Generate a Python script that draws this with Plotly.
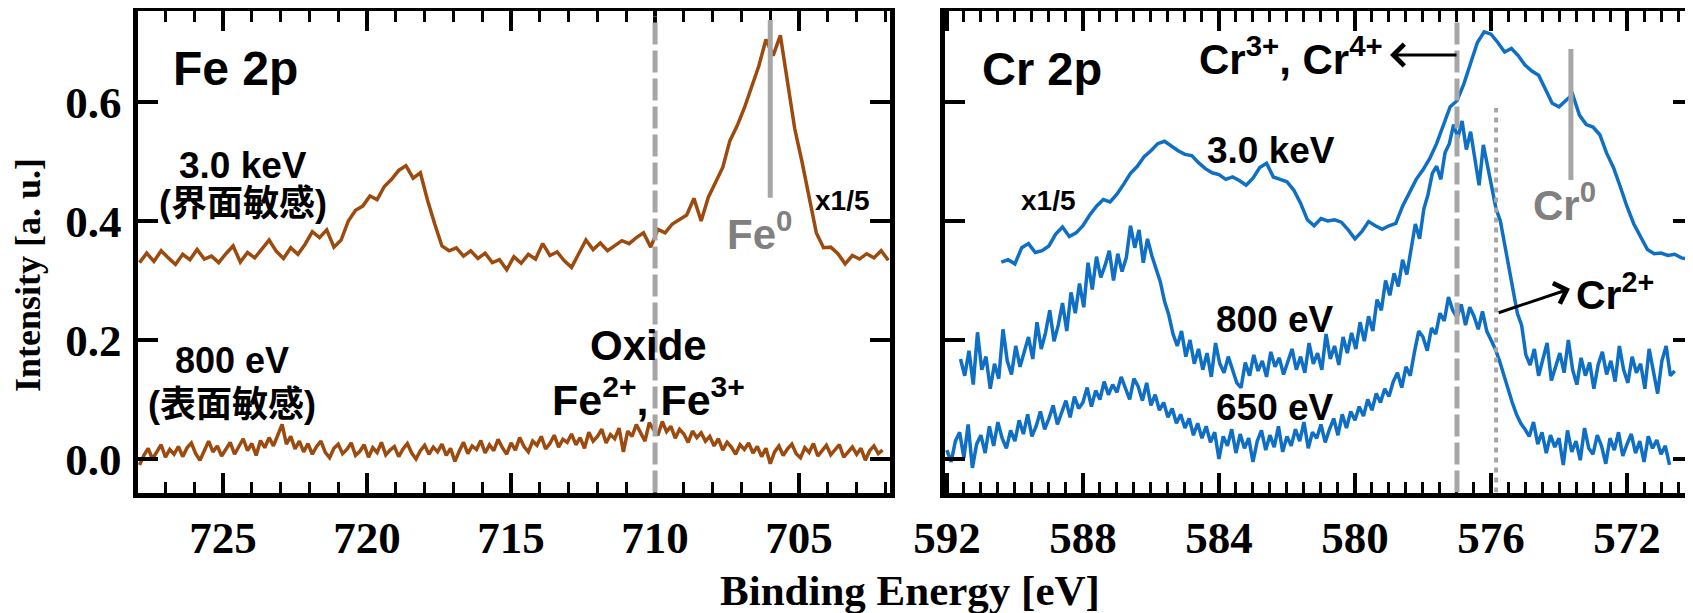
import numpy as np
import plotly.graph_objects as go

# ---------------- data ----------------
# Fe 2p, 3.0 keV (x1/5), energy grid: start 727.9 eV, step 0.25 eV (decreasing)
fe_3kev_start, fe_3kev_step = 727.9, 0.25
fe_3kev = [0.330, 0.346, 0.332, 0.350, 0.338, 0.327, 0.344, 0.335,
           0.352, 0.336, 0.341, 0.330, 0.345, 0.358, 0.331, 0.347,
           0.338, 0.352, 0.368, 0.349, 0.337, 0.355, 0.344, 0.361,
           0.382, 0.372, 0.385, 0.356, 0.368, 0.400, 0.418, 0.425,
           0.442, 0.436, 0.458, 0.470, 0.485, 0.493, 0.472, 0.481,
           0.435, 0.395, 0.358, 0.350, 0.355, 0.341, 0.350, 0.337,
           0.346, 0.330, 0.335, 0.318, 0.340, 0.329, 0.344, 0.336,
           0.362, 0.342, 0.348, 0.333, 0.322, 0.345, 0.368, 0.352,
           0.363, 0.350, 0.358, 0.367, 0.362, 0.372, 0.380, 0.356,
           0.386, 0.380, 0.395, 0.402, 0.410, 0.438, 0.400, 0.440,
           0.465, 0.490, 0.535, 0.560, 0.590, 0.625, 0.660, 0.705,
           0.678, 0.712, 0.635, 0.555, 0.500, 0.440, 0.380, 0.355,
           0.356, 0.345, 0.328, 0.342, 0.336, 0.345, 0.338, 0.350, 0.334]

# Fe 2p, 800 eV, grid: start 727.9 eV, step 0.15 eV
fe_800_start, fe_800_step = 727.9, 0.15
fe_800 = [-0.010, 0.006, 0.018, 0.000, 0.012, 0.024, 0.003, 0.016, 0.008, 0.021,
          0.004, 0.019, 0.027, 0.009, -0.002, 0.015, 0.030, 0.012, 0.022, 0.005,
          0.017, 0.028, 0.008, 0.020, 0.034, 0.014, 0.026, 0.006, 0.031, 0.019,
          0.036, 0.022, 0.042, 0.058, 0.025, 0.038, 0.017, 0.030, 0.012, 0.026,
          0.008, 0.021, 0.030, 0.011, 0.002, 0.018, 0.025, 0.009, 0.016, 0.027,
          0.006, 0.013, 0.024, 0.003, 0.019, 0.011, 0.028, 0.007, 0.015, 0.021,
          0.004, 0.017, 0.026, 0.010, 0.000, 0.014, 0.023, 0.008, 0.020, 0.012,
          0.025, 0.006, 0.018, -0.004, 0.013, 0.028, 0.009, 0.022, 0.016, 0.031,
          0.010, 0.024, 0.014, 0.033, 0.019, 0.008, 0.027, 0.015, 0.036, 0.021,
          0.012, 0.030, 0.023, 0.038, 0.017, 0.026, 0.040, 0.020, 0.033, 0.028,
          0.042, 0.024, 0.036, 0.018, 0.045, 0.030, 0.038, 0.050, 0.027, 0.041,
          0.034, 0.052, 0.012, 0.047, 0.038, 0.058, 0.044, 0.030, 0.061, 0.049,
          0.040, 0.063, 0.046, 0.055, 0.035, 0.050, 0.042, 0.028, 0.047, 0.036,
          0.044, 0.030, 0.038, 0.022, 0.034, 0.015, 0.028, 0.020, 0.008, 0.024,
          0.016, 0.027, 0.010, 0.021, 0.004, 0.018, -0.008, 0.012, 0.022, 0.006,
          0.017, 0.025, 0.009, 0.002, 0.019, 0.011, 0.026, 0.005, 0.014, 0.023,
          0.007, 0.016, 0.024, 0.003, 0.012, 0.020, 0.008, 0.018, -0.002, 0.014,
          0.022, 0.009, 0.015]

# Cr 2p, 3.0 keV (x1/5), grid: start 590.4 eV, step 0.2 eV
cr_3kev_start, cr_3kev_step = 590.4, 0.2
cr_3kev = [0.331, 0.335, 0.328, 0.355, 0.362, 0.347, 0.350, 0.358, 0.378, 0.390,
           0.374, 0.380, 0.392, 0.410, 0.425, 0.436, 0.432, 0.445, 0.462, 0.480,
           0.492, 0.508, 0.518, 0.530, 0.534, 0.526, 0.518, 0.512, 0.510, 0.498,
           0.488, 0.481, 0.478, 0.470, 0.474, 0.468, 0.460, 0.472, 0.490, 0.497,
           0.474, 0.470, 0.466, 0.452, 0.430, 0.402, 0.392, 0.404, 0.400, 0.402,
           0.398, 0.385, 0.370, 0.382, 0.399, 0.392, 0.386, 0.392, 0.396, 0.425,
           0.448, 0.470, 0.486, 0.505, 0.530, 0.560, 0.592, 0.602, 0.630, 0.665,
           0.700, 0.718, 0.714, 0.700, 0.684, 0.690, 0.678, 0.662, 0.652, 0.645,
           0.622, 0.598, 0.592, 0.603, 0.613, 0.578, 0.562, 0.558, 0.545, 0.514,
           0.490, 0.458, 0.424, 0.395, 0.372, 0.352, 0.345, 0.346, 0.342, 0.344,
           0.338, 0.336]

# Cr 2p, 800 eV, grid: start 591.6 eV, step 0.125 eV
cr_800_start, cr_800_step = 591.6, 0.125
cr_800 = [0.168, 0.140, 0.182, 0.125, 0.213, 0.150, 0.172, 0.118,
          0.160, 0.135, 0.218, 0.165, 0.142, 0.190, 0.155, 0.178,
          0.205, 0.168, 0.230, 0.185, 0.212, 0.250, 0.198, 0.225,
          0.262, 0.215, 0.280, 0.245, 0.295, 0.255, 0.330, 0.285,
          0.340, 0.305, 0.325, 0.350, 0.300, 0.345, 0.315, 0.338,
          0.392, 0.355, 0.385, 0.330, 0.370, 0.342, 0.318, 0.298,
          0.265, 0.242, 0.210, 0.190, 0.215, 0.172, 0.200, 0.160,
          0.185, 0.150, 0.178, 0.138, 0.195, 0.160, 0.145, 0.172,
          0.150, 0.128, 0.120, 0.162, 0.140, 0.175, 0.148, 0.165,
          0.138, 0.180, 0.155, 0.170, 0.142, 0.162, 0.185, 0.150,
          0.172, 0.145, 0.195, 0.160, 0.178, 0.150, 0.210, 0.168,
          0.190, 0.158, 0.205, 0.178, 0.212, 0.185, 0.230, 0.198,
          0.240, 0.215, 0.268, 0.250, 0.300, 0.275, 0.312, 0.290,
          0.335, 0.310, 0.352, 0.395, 0.370, 0.420, 0.445, 0.480,
          0.492, 0.470, 0.515, 0.530, 0.562, 0.540, 0.568, 0.520,
          0.550, 0.505, 0.460, 0.528, 0.490, 0.455, 0.420, 0.400,
          0.360, 0.320, 0.280, 0.245, 0.225, 0.175, 0.158, 0.185,
          0.140, 0.168, 0.195, 0.132, 0.155, 0.178, 0.145, 0.200,
          0.150, 0.125, 0.170, 0.140, 0.162, 0.118, 0.158, 0.180,
          0.142, 0.165, 0.130, 0.190, 0.150, 0.128, 0.172, 0.145,
          0.160, 0.118, 0.185, 0.148, 0.110, 0.165, 0.190, 0.140,
          0.148]

# Cr 2p, 650 eV, grid: start 592.0 eV, step 0.125 eV
cr_650_start, cr_650_step = 592.0, 0.125
cr_650 = [0.015, -0.005, 0.030, 0.045, 0.002, 0.058, -0.015, 0.025,
          0.040, 0.010, 0.055, 0.022, 0.062, 0.035, 0.018, 0.048,
          0.030, 0.065, 0.042, 0.075, 0.038, 0.055, 0.080, 0.050,
          0.068, 0.090, 0.058, 0.078, 0.098, 0.070, 0.105, 0.085,
          0.095, 0.120, 0.088, 0.115, 0.100, 0.130, 0.108, 0.125,
          0.112, 0.138, 0.118, 0.100, 0.135, 0.122, 0.098, 0.128,
          0.090, 0.108, 0.082, 0.095, 0.070, 0.085, 0.060, 0.075,
          0.052, 0.068, 0.040, 0.060, 0.035, 0.055, 0.028, 0.045,
          0.000, 0.038, 0.022, 0.050, 0.010, 0.042, 0.018, 0.035,
          -0.005, 0.030, 0.048, 0.015, 0.040, 0.020, 0.055, 0.012,
          0.038, 0.022, 0.050, 0.030, 0.062, 0.018, 0.045, 0.035,
          0.058, 0.028, 0.050, 0.068, 0.040, 0.075, 0.052, 0.080,
          0.065, 0.088, 0.072, 0.100, 0.082, 0.110, 0.095, 0.118,
          0.105, 0.130, 0.145, 0.120, 0.155, 0.140, 0.180, 0.215,
          0.205, 0.182, 0.220, 0.210, 0.245, 0.232, 0.272, 0.250,
          0.238, 0.260, 0.225, 0.255, 0.240, 0.218, 0.248, 0.215,
          0.200, 0.185, 0.165, 0.140, 0.118, 0.095, 0.075, 0.060,
          0.050, 0.038, 0.062, 0.025, 0.045, 0.010, 0.040, 0.020,
          0.035, -0.010, 0.048, 0.012, 0.030, -0.002, 0.052, 0.018,
          0.008, 0.040, 0.022, -0.008, 0.035, 0.015, 0.045, 0.005,
          0.025, 0.042, 0.010, 0.030, -0.005, 0.038, 0.018, 0.032,
          0.008, 0.022, -0.010]

# reference lines (eV, y-from, y-to)
fe_oxide_line = 710.0
fe0_line = (706.0, 0.439, 0.738)
cr34_line = 577.0
cr2_line = (575.85, 0.59)
cr0_line = (573.65, 0.469, 0.689)

# axis settings
fe_range = [727.97, 701.86]
cr_range = [592.07, 570.06]
y_range = [-0.0563, 0.7526]
fe_ticks = [725, 720, 715, 710, 705]
cr_ticks = [592, 588, 584, 580, 576, 572]
y_ticks = [0.0, 0.2, 0.4, 0.6]
y_ticktext = ["0.0", "0.2", "0.4", "0.6"]


def grid(start, step, vals):
    return np.round(start - step * np.arange(len(vals)), 4)


# the page body keeps an 8 px margin, so the figure is 8 px smaller than the window
OFF = 8
W, H = 1693 - OFF, 613 - OFF
FE_COL = "#9C4A0E"
CR_COL = "#0E6FC4"
GRAY = "#A6A6A6"
SANS = "Liberation Sans, Arial, Noto Sans CJK JP, sans-serif"
SERIF = "Liberation Serif"
LW = 3.5


def px(wx):
    return (wx - OFF) / W


def py(wy):
    return 1 - (wy - OFF) / H


fig = go.Figure()
fig.add_trace(go.Scatter(x=grid(fe_3kev_start, fe_3kev_step, fe_3kev), y=fe_3kev,
                         mode="lines", line=dict(color=FE_COL, width=LW), xaxis="x", yaxis="y"))
fig.add_trace(go.Scatter(x=grid(fe_800_start, fe_800_step, fe_800), y=fe_800,
                         mode="lines", line=dict(color=FE_COL, width=LW), xaxis="x", yaxis="y"))
fig.add_trace(go.Scatter(x=grid(cr_3kev_start, cr_3kev_step, cr_3kev), y=cr_3kev,
                         mode="lines", line=dict(color=CR_COL, width=LW), xaxis="x2", yaxis="y2"))
fig.add_trace(go.Scatter(x=grid(cr_800_start, cr_800_step, cr_800), y=cr_800,
                         mode="lines", line=dict(color=CR_COL, width=LW), xaxis="x2", yaxis="y2"))
fig.add_trace(go.Scatter(x=grid(cr_650_start, cr_650_step, cr_650), y=cr_650,
                         mode="lines", line=dict(color=CR_COL, width=LW), xaxis="x2", yaxis="y2"))

shapes = [
    dict(type="line", xref="x", yref="y domain", x0=fe_oxide_line, x1=fe_oxide_line, y0=0, y1=0.99,
         line=dict(color=GRAY, width=5, dash="22px,6px")),
    dict(type="line", xref="x", yref="y", x0=fe0_line[0], x1=fe0_line[0], y0=fe0_line[1], y1=fe0_line[2],
         line=dict(color=GRAY, width=5)),
    dict(type="line", xref="x2", yref="y2", x0=cr34_line, x1=cr34_line, y0=y_range[0], y1=0.738,
         line=dict(color=GRAY, width=5, dash="22px,6px")),
    dict(type="line", xref="x2", yref="y2", x0=cr2_line[0], x1=cr2_line[0], y0=y_range[0], y1=cr2_line[1],
         line=dict(color=GRAY, width=4, dash="5px,5px")),
    dict(type="line", xref="x2", yref="y2", x0=cr0_line[0], x1=cr0_line[0], y0=cr0_line[1], y1=cr0_line[2],
         line=dict(color=GRAY, width=5)),
]


def txt(text, x, y, size, xref="x", yref="y", color="black", family=SANS, angle=0):
    return dict(text=text, x=x, y=y, xref=xref, yref=yref, showarrow=False,
                xanchor="center", yanchor="middle", textangle=angle,
                font=dict(family=family, size=size, color=color, weight="bold"))


annotations = [
    txt("Fe 2p", 724.58, 0.657, 48),
    txt("3.0 keV", 724.3, 0.494, 37),
    txt("(界面敏感)", 724.3, 0.429, 36),
    txt("800 eV", 724.69, 0.165, 36),
    txt("(表面敏感)", 724.69, 0.092, 36),
    txt("Oxide", 710.24, 0.19, 42),
    txt("Fe<sup>2+</sup>, Fe<sup>3+</sup>", 710.24, 0.105, 43),
    txt("Fe<sup>0</sup>", 706.39, 0.383, 42, color="#808080"),
    txt("x1/5", 703.5, 0.434, 28),
    txt("Cr 2p", 589.2, 0.657, 47, xref="x2", yref="y2"),
    txt("Cr<sup>3+</sup>, Cr<sup>4+</sup>", 581.88, 0.677, 42, xref="x2", yref="y2"),
    txt("3.0 keV", 582.47, 0.519, 37, xref="x2", yref="y2"),
    txt("x1/5", 589.0, 0.435, 28, xref="x2", yref="y2"),
    txt("Cr<sup>0</sup>", 573.85, 0.432, 42, xref="x2", yref="y2", color="#808080"),
    txt("Cr<sup>2+</sup>", 572.35, 0.281, 41, xref="x2", yref="y2"),
    txt("800 eV", 582.35, 0.235, 37, xref="x2", yref="y2"),
    txt("650 eV", 582.35, 0.087, 37, xref="x2", yref="y2"),
    # axis titles
    txt("Intensity [a. u.]", px(28), py(275), 36, xref="paper", yref="paper", family=SERIF, angle=-90),
    txt("Binding Energy [eV]", px(910), py(590), 43, xref="paper", yref="paper", family=SERIF),
    # arrows
    dict(text="", x=578.97, y=0.679, ax=576.97, ay=0.679, xref="x2", yref="y2", axref="x2", ayref="y2",
         showarrow=True, arrowhead=4, arrowsize=1.4, arrowwidth=3, arrowcolor="black", standoff=0),
    dict(text="", x=573.68, y=0.286, ax=575.82, ay=0.245, xref="x2", yref="y2", axref="x2", ayref="y2",
         showarrow=True, arrowhead=4, arrowsize=1.4, arrowwidth=3, arrowcolor="black", standoff=0),
]

tickfont = dict(family=SERIF, size=45, color="black", weight="bold")
axis_common = dict(showline=True, linecolor="black", linewidth=5, mirror="allticks",
                   ticks="inside", tickcolor="black", tickwidth=4, ticklen=20,
                   showgrid=False, zeroline=False, automargin=False, tickfont=tickfont)
ydom = [py(492.5), py(11.2)]

fig.update_layout(
    width=W, height=H,
    margin=dict(l=0, r=0, t=0, b=0, pad=0),
    paper_bgcolor="white", plot_bgcolor="white",
    font=dict(family=SERIF, color="black"),
    showlegend=False,
    xaxis=dict(axis_common, domain=[px(137.5), px(889.5)], range=fe_range, anchor="y",
               tickvals=fe_ticks, ticklabelstandoff=1,
               minor=dict(dtick=1, tick0=700, ticks="inside", ticklen=11, tickwidth=3, tickcolor="black")),
    yaxis=dict(axis_common, domain=ydom, range=y_range, anchor="x",
               tickvals=y_ticks, ticktext=y_ticktext, ticklabelstandoff=2),
    xaxis2=dict(axis_common, domain=[px(944.5), 1.0], range=cr_range, anchor="y2",
                tickvals=cr_ticks, ticklabelstandoff=1,
                minor=dict(dtick=0.5, tick0=570, ticks="inside", ticklen=11, tickwidth=3, tickcolor="black")),
    yaxis2=dict(axis_common, domain=ydom, range=y_range, anchor="x2",
                tickvals=y_ticks, showticklabels=False),
    shapes=shapes,
    annotations=annotations,
)

fig.write_html("out.html")
